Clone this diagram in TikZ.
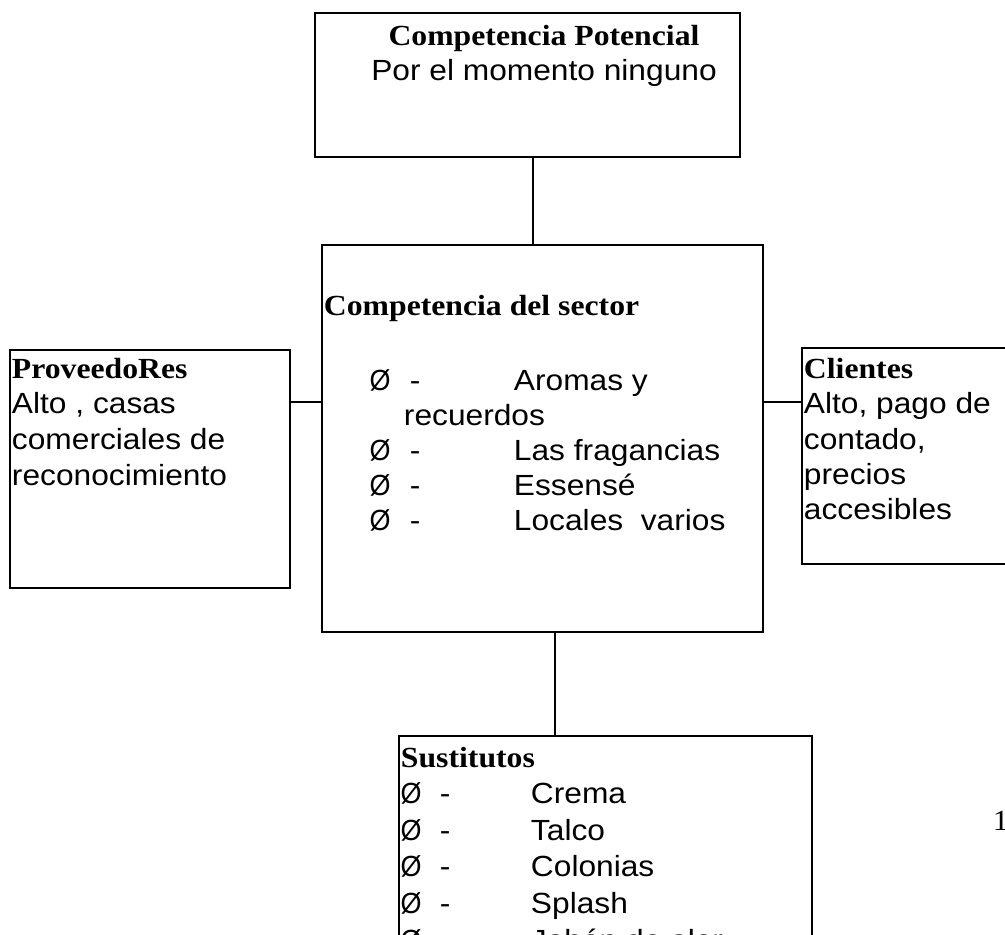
\documentclass[tikz,border=0pt]{standalone}
\usepackage{graphicx}
\usepackage{fontspec}
\setmainfont{Liberation Serif}
\newfontfamily\arialfam{Liberation Sans}
\usetikzlibrary{fit,positioning}
\newcommand{\bajo}[1]{\scalebox{1}[0.92]{#1}}
\newcommand{\bala}{\scalebox{0.85}[0.92]{Ø}}

\begin{document}
\begin{tikzpicture}[x=0.3785pt,y=-0.3785pt,line width=0.75pt,
  caja/.style={draw,inner sep=0pt},
  titulo/.style={font=\bfseries\fontsize{12}{14}\selectfont,inner sep=0pt,anchor=base west},
  texto/.style={font=\arialfam\fontsize{12}{14}\selectfont,inner sep=0pt,anchor=base west}]
  \useasboundingbox (0,0) rectangle (1005,935);
  \clip (0,0) rectangle (1005,935);

  % cajas
  \node[caja,fit={(315,13) (740,157)}] (potencial) {};
  \node[caja,fit={(322,245) (763,632)}] (sector) {};
  \node[caja,fit={(10,350) (290,588)}] (proveedores) {};
  \node[caja,fit={(802,348) (1030,564)}] (clientes) {};
  \node[caja,fit={(399,736) (812,990)}] (sustitutos) {};

  % conectores
  \draw ([xshift=1.9pt]potencial.south) -- ([xshift=1.9pt]potencial.south |- sector.north);
  \draw (proveedores.east |- 0,402) -- (sector.west |- 0,402);
  \draw (sector.east |- 0,402) -- (clientes.west |- 0,402);
  \draw ([xshift=4.7pt]sector.south) -- ([xshift=4.7pt]sector.south |- sustitutos.north);

  % competencia potencial
  \node[titulo,anchor=base] (potT) at (544,45) {\bajo{Competencia Potencial}};
  \node[texto,anchor=base] (potB) at (544,80) {\bajo{Por el momento ninguno}};

  % competencia del sector
  \node[titulo] (secT) at (323,315) {\bajo{Competencia del sector}};
  \node[texto,anchor=base] (sec-b1) at (380,390) {\bala};
  \node[texto] (sec-d1) at (409,390) {\bajo{-}};
  \node[texto] (sec-t1) at (513,390) {\bajo{Aromas y}};
  \node[texto] (sec-t1b) at (403,425) {\bajo{recuerdos}};
  \foreach \prod [count=\i] in {Las fragancias,Essensé,Locales\ \ varios} {
    \node[texto,anchor=base] (sec-b\i) at (380,{425+35*\i}) {\bala};
    \node[texto] (sec-d\i) at (409,{425+35*\i}) {\bajo{-}};
    \node[texto] (sec-t\i) at (513,{425+35*\i}) {\bajo{\prod}};
  }

  % proveedores
  \node[titulo] (provT) at (11,378) {\bajo{ProveedoRes}};
  \node[texto] (prov1) at (11,414) {\bajo{Alto , casas}};
  \node[texto] (prov2) at (11,450) {\bajo{comerciales de}};
  \node[texto] (prov3) at (11,486) {\bajo{reconocimiento}};

  % clientes
  \node[titulo] (cliT) at (803,378) {\bajo{Clientes}};
  \node[texto] (cli1) at (803,414) {\bajo{Alto, pago de}};
  \node[texto] (cli2) at (803,449) {\bajo{contado,}};
  \node[texto] (cli3) at (803,484) {\bajo{precios}};
  \node[texto] (cli4) at (803,519) {\bajo{accesibles}};

  % sustitutos
  \node[titulo] (susT) at (400,767) {\bajo{Sustitutos}};
  \foreach \prod [count=\i] in {Crema,Talco,Colonias,Splash,Jabón de olor} {
    \node[texto,anchor=base] (sus-b\i) at (411,{767+36.6*\i}) {\bala};
    \node[texto] (sus-d\i) at (439,{767+36.6*\i}) {\bajo{-}};
    \node[texto] (sus-t\i) at (530,{767+36.6*\i}) {\bajo{\prod}};
  }

  % numero de pagina
  \node[titulo,font=\fontsize{12}{14}\selectfont] (pagina) at (992,830) {\bajo{1}};
\end{tikzpicture}
\end{document}
